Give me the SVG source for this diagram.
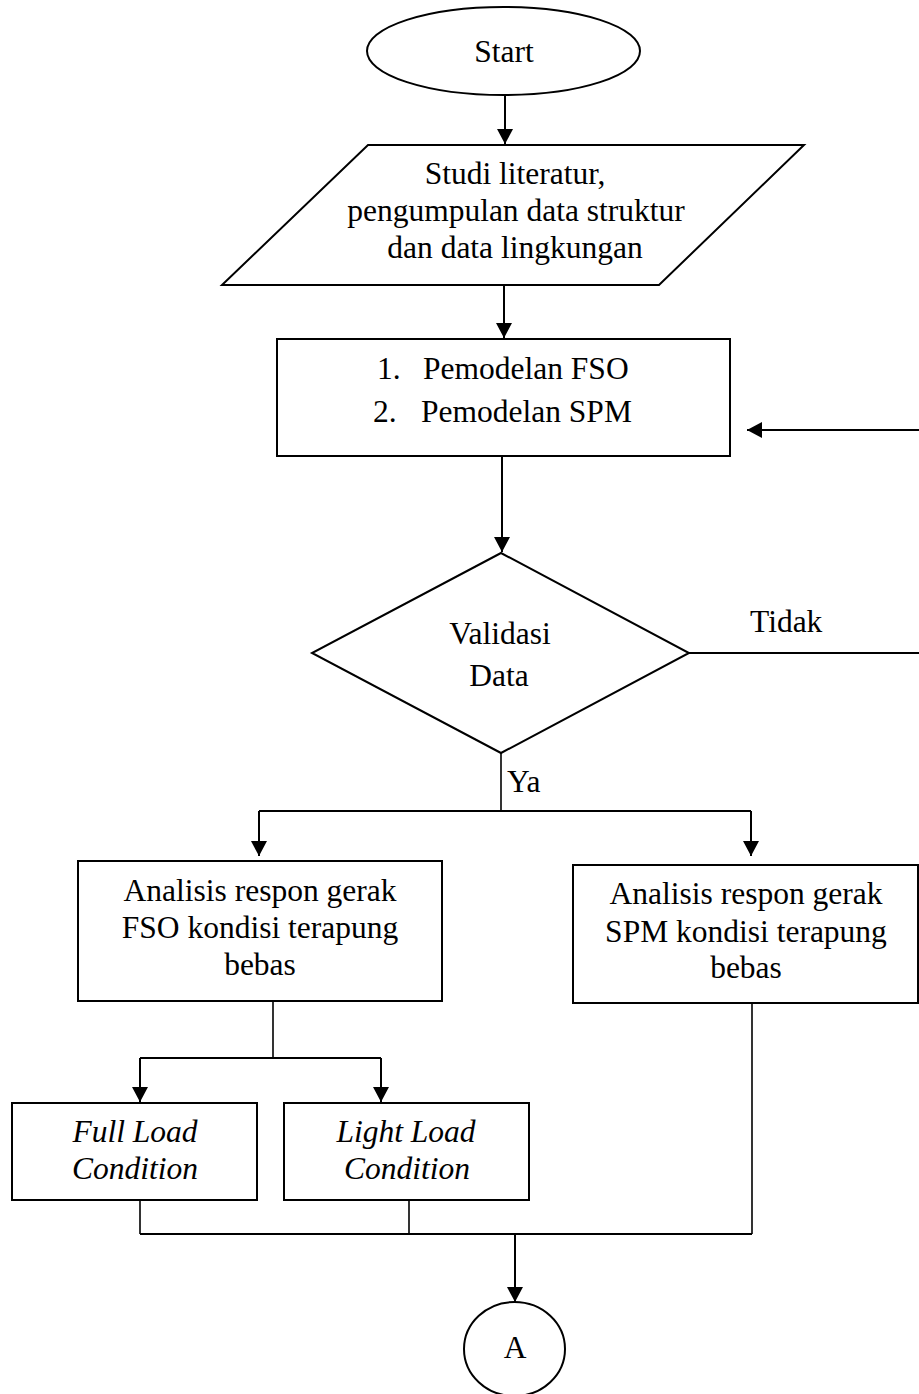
<svg xmlns="http://www.w3.org/2000/svg" width="919" height="1394" viewBox="0 0 919 1394">
<style>
.shape{fill:#fff;stroke:#000;stroke-width:2}
.t{font-family:"Liberation Serif","Times New Roman",serif;font-size:31.5px;fill:#000;text-anchor:middle}
.ts{font-family:"Liberation Serif","Times New Roman",serif;font-size:31.5px;fill:#000}
.i{font-style:italic}
.c{fill:none;stroke:#000;stroke-width:2}
.l{fill:none;stroke:#000;stroke-width:1.6}
</style>
<defs>
<marker id="ah" markerUnits="userSpaceOnUse" markerWidth="15" markerHeight="16" refX="15" refY="8" orient="auto">
<path d="M0,0 L15,8 L0,16 z" fill="#000"/>
</marker>
</defs>
<rect width="919" height="1394" fill="#fff"/>
<g id="connectors">
<line class="c" x1="505" y1="95" x2="505" y2="144" marker-end="url(#ah)"/>
<line class="c" x1="504" y1="285" x2="504" y2="338" marker-end="url(#ah)"/>
<line class="c" x1="502" y1="456" x2="502" y2="552" marker-end="url(#ah)"/>
<path class="c" d="M689 653 H925 V430 H747" marker-end="url(#ah)"/>
<line class="l" x1="501" y1="753" x2="501" y2="811"/>
<line class="c" x1="259" y1="811" x2="751" y2="811"/>
<line class="c" x1="259" y1="811" x2="259" y2="856" marker-end="url(#ah)"/>
<line class="c" x1="751" y1="811" x2="751" y2="856" marker-end="url(#ah)"/>
<line class="l" x1="273" y1="1001" x2="273" y2="1058"/>
<line class="c" x1="140" y1="1058" x2="381" y2="1058"/>
<line class="c" x1="140" y1="1058" x2="140" y2="1102" marker-end="url(#ah)"/>
<line class="c" x1="381" y1="1058" x2="381" y2="1102" marker-end="url(#ah)"/>
<line class="l" x1="140" y1="1200" x2="140" y2="1234"/>
<line class="l" x1="409" y1="1200" x2="409" y2="1234"/>
<line class="l" x1="752" y1="1003" x2="752" y2="1234"/>
<line class="c" x1="140" y1="1234" x2="752" y2="1234"/>
<line class="c" x1="515" y1="1234" x2="515" y2="1302" marker-end="url(#ah)"/>
<text class="ts" x="750" y="632">Tidak</text>
<text class="ts" x="507" y="792">Ya</text>
</g>
<g id="start">
<ellipse class="shape" cx="503.5" cy="51" rx="136.5" ry="44"/>
<text class="t" x="504" y="62">Start</text>
</g>
<g id="studi">
<polygon class="shape" points="368,145 804,145 659,285 222,285"/>
<text class="t" x="515" y="184">Studi literatur,</text>
<text class="t" x="516" y="221">pengumpulan data struktur</text>
<text class="t" x="515" y="258">dan data lingkungan</text>
</g>
<g id="pemodelan">
<rect class="shape" x="277" y="339" width="453" height="117"/>
<text class="ts" x="377" y="379">1.</text>
<text class="ts" x="423" y="379">Pemodelan FSO</text>
<text class="ts" x="373" y="422">2.</text>
<text class="ts" x="421" y="422">Pemodelan SPM</text>
</g>
<g id="validasi">
<polygon class="shape" points="501,553 689,653 501,753 312,653"/>
<text class="t" x="500" y="644">Validasi</text>
<text class="t" x="499" y="686">Data</text>
</g>
<g id="fso">
<rect class="shape" x="78" y="861" width="364" height="140"/>
<text class="t" x="260" y="901">Analisis respon gerak</text>
<text class="t" x="260" y="938">FSO kondisi terapung</text>
<text class="t" x="260" y="975">bebas</text>
</g>
<g id="spm">
<rect class="shape" x="573" y="865" width="345" height="138"/>
<text class="t" x="746" y="904">Analisis respon gerak</text>
<text class="t" x="746" y="942">SPM kondisi terapung</text>
<text class="t" x="746" y="978">bebas</text>
</g>
<g id="fullload">
<rect class="shape" x="12" y="1103" width="245" height="97"/>
<text class="t i" x="135" y="1142">Full Load</text>
<text class="t i" x="135" y="1179">Condition</text>
</g>
<g id="lightload">
<rect class="shape" x="284" y="1103" width="245" height="97"/>
<text class="t i" x="406" y="1142">Light Load</text>
<text class="t i" x="407" y="1179">Condition</text>
</g>
<g id="connector-a">
<ellipse class="shape" cx="514.5" cy="1349" rx="50.5" ry="47"/>
<text class="t" x="515" y="1358">A</text>
</g>
</svg>
